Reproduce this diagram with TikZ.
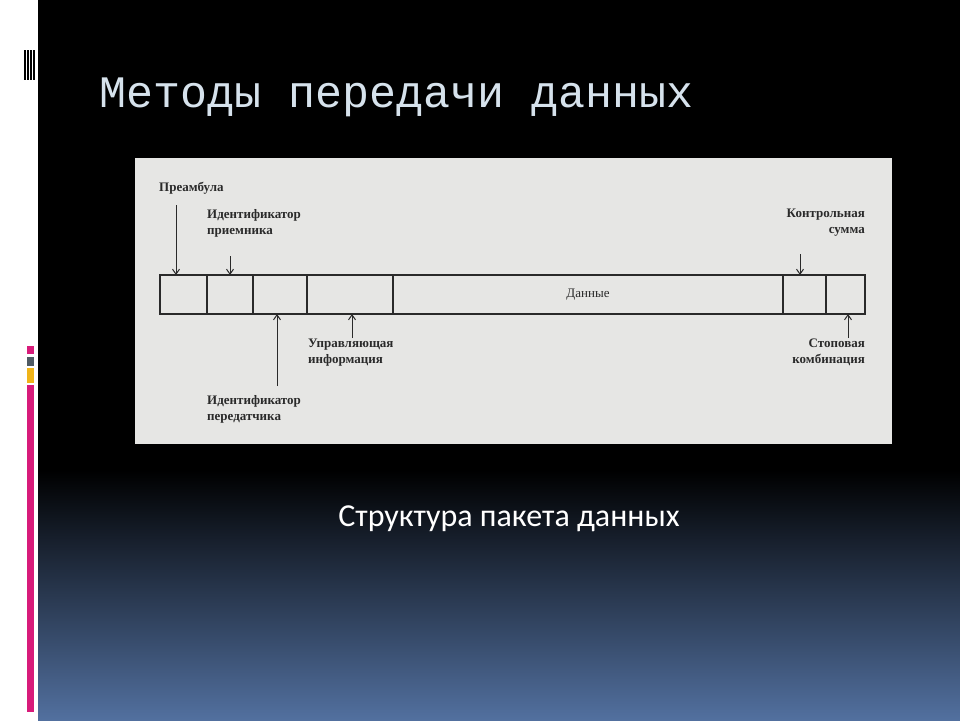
\documentclass[tikz,border=0pt]{standalone}
\usepackage{fontspec}
\setmainfont{Liberation Serif}
\newfontfamily\titlefont{Liberation Mono}
\newfontfamily\capfont{Carlito}
\usetikzlibrary{arrows.meta}
\definecolor{paper}{HTML}{E6E6E4}
\definecolor{ink}{HTML}{2A2A2A}
\definecolor{titlec}{HTML}{D6E2EC}
\definecolor{pinkc}{HTML}{D81B7A}
\definecolor{grayc}{HTML}{4F5A63}
\definecolor{yellc}{HTML}{F0B418}
\definecolor{bluec}{HTML}{52709F}
\tikzset{
 lbl/.style={font=\bfseries\fontsize{13}{16}\selectfont,text=ink,inner sep=0pt,align=left},
 lblr/.style={lbl,align=right},
 fld/.style={draw=ink,line width=1.3pt,minimum height=39pt,inner sep=0pt},
 arr/.style={draw=ink,line width=1pt,-{Straight Barb[length=5pt,width=7pt]}}
}
\begin{document}
\begin{tikzpicture}[x=1pt,y=-1pt]
\useasboundingbox (0,0) rectangle (960,720);
\fill[white] (0,0) rectangle (38,720);
\fill[black] (38,0) rectangle (960,470);
\shade[top color=black,bottom color=bluec] (38,470) rectangle (960,720);
\foreach \x in {24,27,30,33} \fill[black] (\x,50) rectangle (\x+1.6,80);
\fill[pinkc] (27,346) rectangle (34,354);
\fill[grayc] (27,357) rectangle (34,366);
\fill[yellc] (27,368) rectangle (34,383);
\fill[pinkc] (27,385) rectangle (34,712);
\node[anchor=west,text=titlec,font=\titlefont\fontsize{45}{50}\selectfont,inner sep=0pt] (title) at (99,97) {Методы передачи данных};
\fill[paper] (135,158) rectangle (892,444);
\node[fld,minimum width=47pt] (f1) at (183.5,294.5) {};
\node[fld,minimum width=46pt] (f2) at (230,294.5) {};
\node[fld,minimum width=54pt] (f3) at (280,294.5) {};
\node[fld,minimum width=86pt] (f4) at (350,294.5) {};
\node[fld,minimum width=390pt,font=\fontsize{13}{16}\selectfont,text=ink] (f5) at (588,294.5) {Данные};
\node[fld,minimum width=43pt] (f6) at (804.5,294.5) {};
\node[fld,minimum width=39pt] (f7) at (845.5,294.5) {};
\node[lbl,anchor=west] (pre) at (159,188) {Преамбула};
\node[lbl,anchor=north west] (rcv) at (207,209) {Идентификатор\\приемника};
\node[lbl,anchor=north west] (ctl) at (308,339) {Управляющая\\информация};
\node[lbl,anchor=north west] (snd) at (207,395) {Идентификатор\\передатчика};
\node[lblr,anchor=north east] (crc) at (865,209) {Контрольная\\сумма};
\node[lblr,anchor=north east] (stp) at (865,339) {Стоповая\\комбинация};
\coordinate (a1) at (176,205); \coordinate (a1e) at (176,275);
\coordinate (a2) at (230,256); \coordinate (a2e) at (230,275);
\coordinate (a3) at (277,386); \coordinate (a3e) at (277,314);
\coordinate (a4) at (352,338); \coordinate (a4e) at (352,314);
\coordinate (a5) at (800,254); \coordinate (a5e) at (800,275);
\coordinate (a6) at (848,338); \coordinate (a6e) at (848,314);
\foreach \s/\e in {a1/a1e,a2/a2e,a3/a3e,a4/a4e,a5/a5e,a6/a6e} \draw[arr] (\s) -- (\e);
\node[text=white,font=\capfont\fontsize{32}{36}\selectfont,inner sep=0pt] (cap) at (509,519) {Структура пакета данных};
\end{tikzpicture}
\end{document}
